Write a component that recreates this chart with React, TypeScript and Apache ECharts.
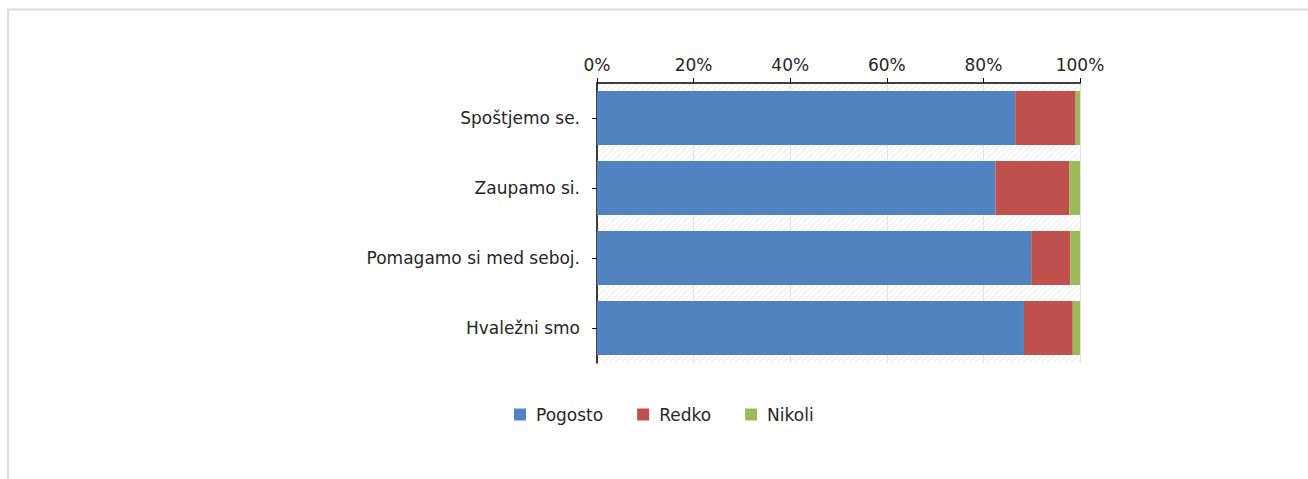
import React, { useEffect, useRef } from "react";
import * as echarts from "echarts";

const categories = ["Spoštjemo se.", "Zaupamo si.", "Pomagamo si med seboj.", "Hvaležni smo"];
const seriesNames = ["Pogosto", "Redko", "Nikoli"];
const pogosto = [86.6, 82.5, 89.9, 88.4];
const redko = [12.5, 15.3, 8.1, 10.1];
const nikoli = [0.9, 2.2, 2.0, 1.5];
const seriesColors = ["#5083BF", "#C0504D", "#9BBB59"];

const hatchSvg =
  "data:image/svg+xml;charset=utf-8," +
  encodeURIComponent(
    '<svg xmlns="http://www.w3.org/2000/svg" width="6" height="6"><path d="M0,6 L6,0 M-1,1 L1,-1 M5,7 L7,5" stroke="#e9e9e9" stroke-width="1"/></svg>'
  );

const FONT = "DejaVu Sans";

export default function App() {
  const ref = useRef<HTMLDivElement>(null);
  useEffect(() => {
    if (!ref.current) return;
    const chart = echarts.init(ref.current, null, { renderer: "svg" });
    const values = [pogosto, redko, nikoli];
    chart.setOption({
      animation: false,
      backgroundColor: "#ffffff",
      textStyle: { fontFamily: FONT },
      graphic: [
        {
          type: "rect",
          shape: { x: 8, y: 9.5, width: 1400, height: 600 },
          style: { fill: "none", stroke: "#d9d9d9", lineWidth: 2 },
          silent: true,
        },
      ],
      legend: {
        left: 509,
        top: 401,
        icon: "rect",
        itemWidth: 12,
        itemHeight: 12,
        itemGap: 34,
        textStyle: { fontFamily: FONT, fontSize: 17, color: "#262626", padding: [0, 0, 0, 5] },
        data: seriesNames,
      },
      grid: {
        left: 597,
        top: 83,
        width: 483,
        height: 280,
        show: true,
        borderWidth: 0,
        backgroundColor: { image: hatchSvg, repeat: "repeat", imageWidth: 6, imageHeight: 6 },
      },
      xAxis: {
        type: "value",
        position: "top",
        min: 0,
        max: 100,
        interval: 20,
        axisLine: { show: true, lineStyle: { color: "#000000", width: 1.5 } },
        axisTick: { show: true, length: 5, lineStyle: { color: "#000000" } },
        axisLabel: {
          formatter: "{value}%",
          fontFamily: FONT,
          fontSize: 17,
          color: "#262626",
          margin: 10,
        },
        splitLine: { show: true, lineStyle: { color: "#e2e2e2", width: 1 } },
      },
      yAxis: {
        type: "category",
        inverse: true,
        data: categories,
        axisLine: { show: true, lineStyle: { color: "#000000", width: 1.5 } },
        axisTick: { show: true, alignWithLabel: true, length: 5, lineStyle: { color: "#000000" } },
        axisLabel: { fontFamily: FONT, fontSize: 17, color: "#262626", margin: 17 },
      },
      series: seriesNames.map((name, i) => ({
        name,
        type: "bar",
        stack: "total",
        barWidth: 54,
        itemStyle: { color: seriesColors[i] },
        data: values[i],
      })),
    });
    return () => chart.dispose();
  }, []);
  return (
    <div
      ref={ref}
      style={{ position: "fixed", left: 0, top: 0, width: 1308, height: 479 }}
    />
  );
}
